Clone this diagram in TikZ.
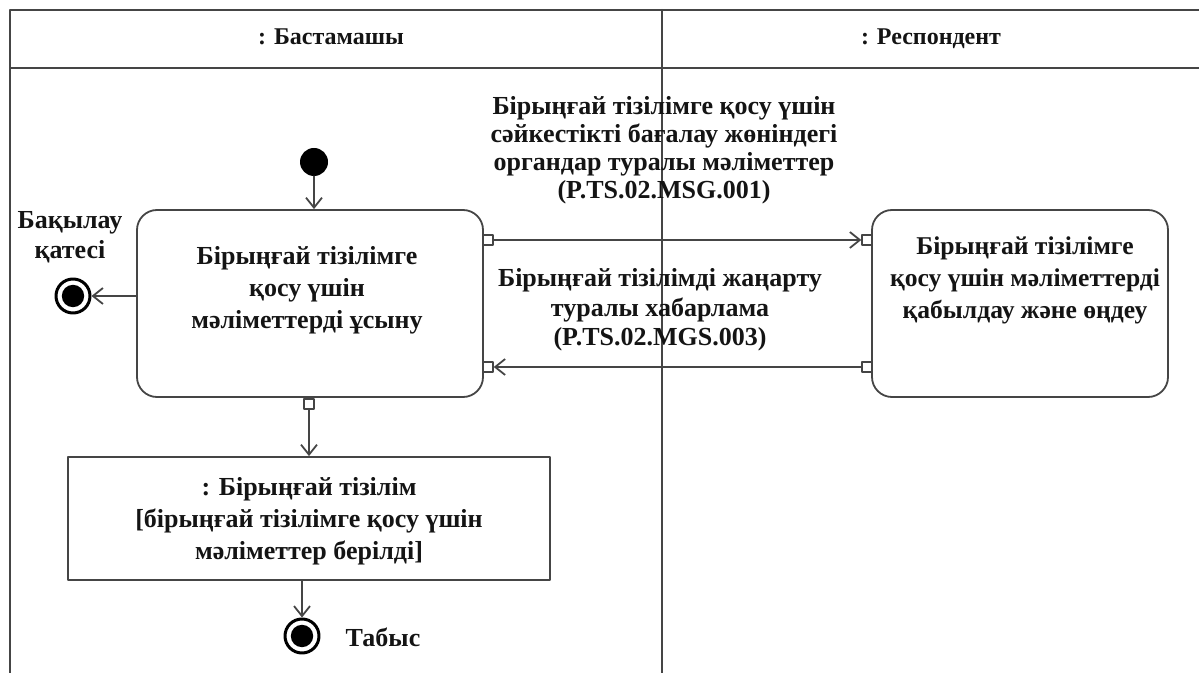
\documentclass[tikz,border=0pt]{standalone}
\usepackage{fontspec}
\setmainfont{Liberation Serif}
\usetikzlibrary{arrows.meta,positioning}
\definecolor{lline}{rgb}{0.27,0.27,0.27}
\definecolor{ttxt}{rgb}{0.08,0.08,0.08}

\begin{document}
\begin{tikzpicture}[x=0.5pt,y=-0.5pt,line cap=round,line join=round,
  >={Straight Barb[length=5pt,width=8pt]},
  every node/.style={text=ttxt,font=\bfseries\fontsize{13}{16}\selectfont},
  act/.style={draw=lline,line width=0.9pt,rounded corners=10pt,minimum width=173pt,minimum height=93.5pt},
  obj/.style={draw=lline,line width=0.9pt,minimum width=241pt,minimum height=61.5pt},
  pinbox/.style={draw=lline,fill=white,line width=0.7pt,inner sep=0pt,minimum size=5pt},
  startdot/.style={circle,fill=black,inner sep=0pt,minimum size=14pt},
  enddot/.style={circle,draw=black,line width=1.5pt,fill=white,inner sep=0pt,minimum size=17pt,
    path picture={\fill[black] (path picture bounding box.center) circle (5.6pt);}},
  lanehead/.style={anchor=base,font=\bfseries\fontsize{12}{14}\selectfont},
  flow/.style={draw=lline,line width=0.9pt,->}]
\useasboundingbox (0,0) rectangle (1199,673);
% swimlanes
\draw[lline,line width=1pt] (10,673) -- (10,10) -- (1199,10);
\draw[lline,line width=1pt] (10,68) -- (1199,68);
\draw[lline,line width=1pt] (662,10) -- (662,673);
\node[lanehead] (laneA) at (331,45) {: Бастамашы};
\node[lanehead] (laneB) at (931,45) {: Респондент};
% actions
\node[startdot] (start) at (314,162) {};
\node[act] (actA) at (310,303.5) {};
\node[align=center] (actAtxt) at (307,290) {Бірыңғай тізілімге\\қосу үшін\\мәліметтерді ұсыну};
\node[act,minimum width=148pt] (actB) at (1020,303.5) {};
\node[align=center,font=\bfseries\fontsize{12.8}{16}\selectfont] (actBtxt) at (1025,280) {Бірыңғай тізілімге\\қосу үшін мәліметтерді\\қабылдау және өңдеу};
\node[obj] (data) at (309,518.5) {};
\node[align=center] (datatxt) at (309,521) {: Бірыңғай тізілім\\{[}бірыңғай тізілімге қосу үшін\\мәліметтер берілді{]}};
% ends
\node[enddot] (errEnd) at (73,296) {};
\node[align=center,font=\bfseries\fontsize{13}{15}\selectfont] (errLbl) at (70,237) {Бақылау\\қатесі};
\node[enddot] (okEnd) at (302,636) {};
\node (okLbl) at (383,637) {Табыс};
% pins
\node[pinbox] (pinA1) at (488,240) {};
\node[pinbox] (pinA2) at (488,367) {};
\node[pinbox] (pinA3) at (309,404) {};
\node[pinbox] (pinB1) at (867,240) {};
\node[pinbox] (pinB2) at (867,367) {};
% messages
\node[align=center,font=\bfseries\fontsize{13}{14}\selectfont] (msgA) at (664,150)
  {Бірыңғай тізілімге қосу үшін\\сәйкестікті бағалау жөніндегі\\органдар туралы мәліметтер\\(P.TS.02.MSG.001)};
\node[align=center,font=\bfseries\fontsize{13}{14.8}\selectfont] (msgB) at (660,310)
  {Бірыңғай тізілімді жаңарту\\туралы хабарлама\\(P.TS.02.MGS.003)};
% flows
\draw[flow] (start) -- (actA.north -| start);
\draw[flow] (actA.west |- errEnd) -- (errEnd);
\draw[flow] (pinA1) -- (pinB1);
\draw[flow] (pinB2) -- (pinA2);
\draw[flow] (pinA3) -- (data.north -| pinA3);
\draw[flow] (data.south -| okEnd) -- (okEnd);
\end{tikzpicture}
\end{document}
